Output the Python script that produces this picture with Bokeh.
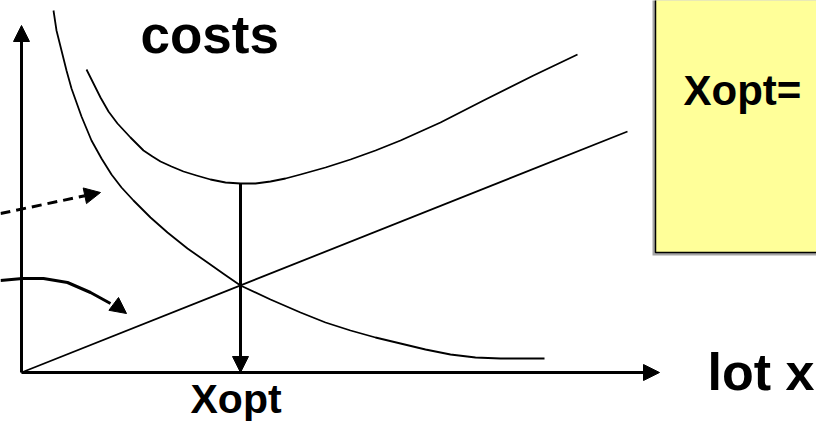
from bokeh.plotting import figure
from bokeh.models import Arrow, NormalHead, ColumnDataSource, Range1d
from bokeh.core.properties import value
from bokeh.embed import file_html
from bokeh.resources import INLINE

# ---- data (lot size x, cost y) ----
ordering_x = [32, 35, 40, 45, 50, 60, 70, 80, 90, 100, 112, 129, 146, 166, 186, 203, 219,
              249, 279, 304, 329, 354, 379, 404, 429, 454, 479, 523]
ordering_y = [362, 342, 322, 302, 284, 256, 232, 214, 198, 185, 172, 155, 140, 124, 110, 98, 87,
              73, 60, 50, 42, 35, 29, 23, 18, 15, 14, 14]

total_x = [65, 72, 79, 87, 96, 109, 122, 131, 139, 150, 162, 175, 189, 204, 219, 234, 249, 264,
           279, 304, 329, 354, 379, 419, 462, 512, 556]
total_y = [303, 289, 275, 261, 249, 235, 222, 216, 211, 206, 201, 197, 193, 190, 189, 189, 191, 194,
           198, 205, 213, 222, 232, 250, 272, 297, 318]

holding_x = [0, 606]
holding_y = [0, 241]

x_opt = 219
total_min = 189

# axes (arrow start/end)
axis_x_start = [0, 0]
axis_y_start = [0, 0]
axis_x_end = [638, 0]
axis_y_end = [0, 347]

# pointer arrows
dashed_x = [-21, 79]
dashed_y = [159, 180]
curved_x = [-21, 1, 22, 46, 69, 89, 105]
curved_y = [92, 94, 94, 90, 80, 69, 59]
curved_head_from = (93, 68)

# formula box
box_left, box_right, box_bottom, box_top = 634, 830, 120, 420

# labels
label_text = ["costs", "Xopt", "Xopt=", "lot x"]
label_x = [119, 169, 662, 686]
label_y = [338, -26, 282, 1]
label_size = ["53px", "41px", "42px", "52px"]

FONT = "Liberation Sans"

p = figure(width=816, height=424, output_backend="svg", toolbar_location=None,
           x_range=Range1d(-21, 795), y_range=Range1d(-52, 372),
           min_border=0, min_border_left=0, min_border_right=0,
           min_border_top=0, min_border_bottom=0)
p.axis.visible = False
p.grid.visible = False
p.outline_line_color = None
p.background_fill_color = "white"
p.border_fill_color = "white"

# formula box with shadow
p.quad(left=[box_left - 3], right=[box_right], bottom=[box_bottom - 3], top=[box_top],
       fill_color="#A6A6A6", line_color=None)
p.quad(left=[box_left], right=[box_right], bottom=[box_bottom], top=[box_top],
       fill_color="#FFFF99", line_color="black", line_width=1.5)

# curves
p.line(ordering_x, ordering_y, line_color="black", line_width=1.8, line_join="round")
p.line(total_x, total_y, line_color="black", line_width=1.8, line_join="round")
p.line(holding_x, holding_y, line_color="black", line_width=1.8)

HEAD = 16

# axes with arrow heads
axes_src = ColumnDataSource(dict(xs=axis_x_start, ys=axis_y_start, xe=axis_x_end, ye=axis_y_end))
p.add_layout(Arrow(end=NormalHead(size=HEAD, fill_color="black", line_color="black"),
                   x_start="xs", y_start="ys", x_end="xe", y_end="ye", source=axes_src,
                   line_width=3, line_color="black"))

# vertical arrow at Xopt
p.add_layout(Arrow(end=NormalHead(size=HEAD, fill_color="black", line_color="black"),
                   x_start=x_opt, y_start=total_min, x_end=x_opt, y_end=0,
                   line_width=3, line_color="black"))

# dashed pointer arrow
p.add_layout(Arrow(end=NormalHead(size=HEAD, fill_color="black", line_color="black"),
                   x_start=dashed_x[0], y_start=dashed_y[0], x_end=dashed_x[1], y_end=dashed_y[1],
                   line_width=3, line_color="black", line_dash="10 6"))

# curved pointer arrow
p.line(curved_x[:-1], curved_y[:-1], line_color="black", line_width=3, line_join="round")
p.add_layout(Arrow(end=NormalHead(size=HEAD, fill_color="black", line_color="black"),
                   x_start=curved_head_from[0], y_start=curved_head_from[1],
                   x_end=curved_x[-1], y_end=curved_y[-1],
                   line_width=3, line_color="black"))

# labels
for t, x, y, s in zip(label_text, label_x, label_y, label_size):
    p.text(x=[x], y=[y], text=[t], text_font=value(FONT), text_font_style="bold",
           text_font_size=s, text_color="black", text_align="left", text_baseline="alphabetic")

open("out.html", "w").write(file_html(p, INLINE))
